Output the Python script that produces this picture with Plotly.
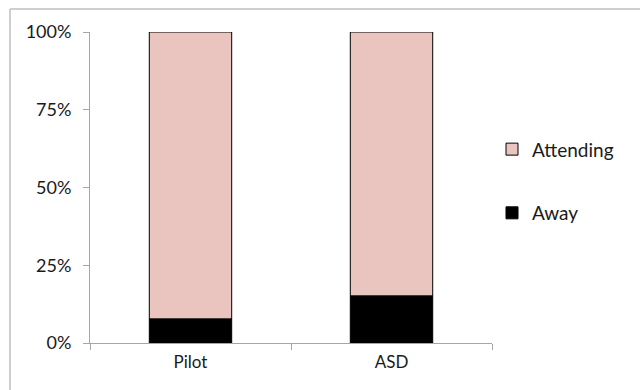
import plotly.graph_objects as go

# Share of time spent attending vs. looking away, per group
groups = ["Pilot", "ASD"]
away = [7.7, 15.1]
attending = [92.3, 84.9]

tick_vals = [0, 25, 50, 75, 100]
tick_text = ["0%", "25%", "50%", "75%", "100%"]

font_family = "Lato, 'Open Sans', sans-serif"
axis_grey = "#a6a6a6"

fig = go.Figure()
fig.add_trace(go.Bar(
    x=groups, y=attending, name="Attending",
    marker=dict(color="#EAC5BF", line=dict(color="#000000", width=1)),
    width=0.41, legendgroup="attending", base=away,
))
fig.add_trace(go.Bar(
    x=groups, y=away, name="Away",
    marker=dict(color="#000000", line=dict(color="#000000", width=1)),
    width=0.41, legendgroup="away",
))

fig.update_layout(
    barmode="overlay",
    width=640, height=390,
    margin=dict(l=90, r=148, t=32, b=47),
    paper_bgcolor="white", plot_bgcolor="white",
    font=dict(family=font_family, size=18, color="#1a1a1a"),
    showlegend=True,
    legend=dict(
        x=1.0, y=0.52, xanchor="left", yanchor="middle",
        traceorder="grouped", tracegroupgap=36,
        font=dict(size=19), itemwidth=30,
        bgcolor="rgba(0,0,0,0)",
    ),
    xaxis=dict(
        type="category", tickson="boundaries",
        showline=True, linecolor=axis_grey, linewidth=1,
        ticks="outside", ticklen=6, tickcolor=axis_grey,
        showgrid=False, zeroline=False,
        tickfont=dict(size=17), ticklabelstandoff=4,
    ),
    yaxis=dict(
        range=[0, 100], tickvals=tick_vals, ticktext=tick_text,
        showline=True, linecolor=axis_grey, linewidth=1,
        ticks="outside", ticklen=6, tickcolor=axis_grey,
        showgrid=False, zeroline=False,
        tickfont=dict(size=18), ticklabelstandoff=8,
    ),
    shapes=[
        # chart-area frame (left and top edges)
        dict(type="line", xref="paper", yref="paper",
             x0=-0.199, x1=1.5, y0=1.074, y1=1.074,
             line=dict(color="#bfbfbf", width=1.5)),
        dict(type="line", xref="paper", yref="paper",
             x0=-0.199, x1=-0.199, y0=-0.5, y1=1.074,
             line=dict(color="#bfbfbf", width=1.5)),
    ],
)

fig.write_html("out.html")
